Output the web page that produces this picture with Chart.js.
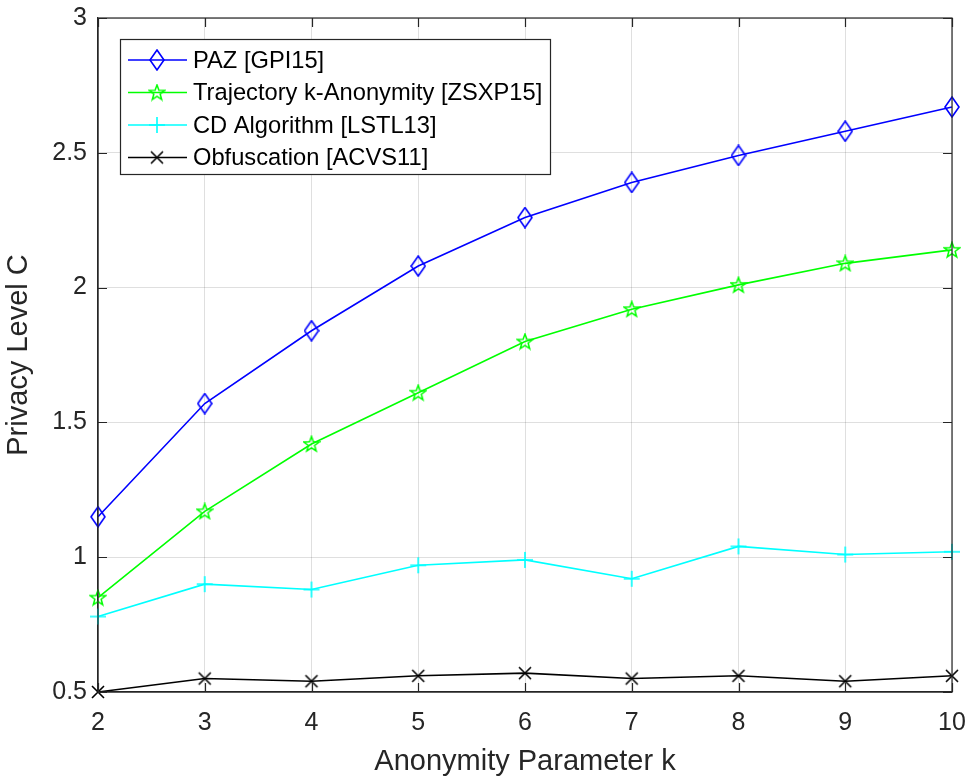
<!doctype html>
<html>
<head>
<meta charset="utf-8">
<title>Privacy Level C</title>
<script src="https://cdn.jsdelivr.net/npm/chart.js@4/dist/chart.umd.min.js"></script>
<style>
  html, body { margin: 0; padding: 0; background: #fff; }
  #holder { width: 970px; height: 779px; }
</style>
</head>
<body>
<div id="holder"><canvas id="chart"></canvas></div>
<script>
// data
var kValues = [2, 3, 4, 5, 6, 7, 8, 9, 10];
var pazValues = [1.15, 1.57, 1.84, 2.08, 2.26, 2.39, 2.49, 2.58, 2.67];
var trajValues = [0.85, 1.17, 1.42, 1.61, 1.80, 1.92, 2.01, 2.09, 2.14];
var cdValues = [0.78, 0.90, 0.88, 0.97, 0.99, 0.92, 1.04, 1.01, 1.02];
var obfValues = [0.50, 0.55, 0.54, 0.56, 0.57, 0.55, 0.56, 0.54, 0.56];
var seriesNames = ['PAZ [GPI15]', 'Trajectory k-Anonymity [ZSXP15]', 'CD Algorithm [LSTL13]', 'Obfuscation [ACVS11]'];
var yTicks = [0.5, 1, 1.5, 2, 2.5, 3];

var FONT = '"Liberation Sans", Arial, sans-serif';
var AXIS = '#262626';

// MATLAB-like open markers
function marker(w, h, draw) {
    var c = document.createElement('canvas');
    c.width = w; c.height = h;
    var g = c.getContext('2d');
    draw(g, w, h);
    return c;
}
var diamond = marker(16, 22, function(g, w, h) {
    g.strokeStyle = '#0000ff'; g.lineWidth = 1.6;
    g.beginPath();
    g.moveTo(w / 2, 1); g.lineTo(w - 1, h / 2); g.lineTo(w / 2, h - 1); g.lineTo(1, h / 2);
    g.closePath(); g.stroke();
});
var pentagram = marker(18, 18, function(g, w, h) {
    g.strokeStyle = '#00ff00'; g.lineWidth = 1.5;
    g.beginPath();
    for (var i = 0; i < 10; i++) {
        var r = i % 2 === 0 ? 8 : 3.3;
        var a = -Math.PI / 2 + i * Math.PI / 5;
        var px = w / 2 + r * Math.cos(a), py = h / 2 + 0.5 + r * Math.sin(a);
        if (i === 0) g.moveTo(px, py); else g.lineTo(px, py);
    }
    g.closePath(); g.stroke();
});
var plus = marker(18, 18, function(g, w, h) {
    g.strokeStyle = '#00ffff'; g.lineWidth = 1.6;
    g.beginPath();
    g.moveTo(w / 2, 1); g.lineTo(w / 2, h - 1);
    g.moveTo(1, h / 2); g.lineTo(w - 1, h / 2);
    g.stroke();
});
var cross = marker(16, 16, function(g, w, h) {
    g.strokeStyle = '#000000'; g.lineWidth = 1.6;
    g.beginPath();
    g.moveTo(2, 2); g.lineTo(w - 2, h - 2);
    g.moveTo(w - 2, 2); g.lineTo(2, h - 2);
    g.stroke();
});

function toPoints(vals) {
    return vals.map(function(v, i) { return {x: kValues[i], y: v}; });
}
function series(label, vals, color, style) {
    return {
        label: label,
        data: toPoints(vals),
        borderColor: color,
        backgroundColor: color,
        borderWidth: 1.6,
        pointStyle: style,
        pointRadius: 8,
        pointHoverRadius: 8,
        tension: 0
    };
}

// box + inward ticks on all four sides, legend inside the axes
var matlabBox = {
    id: 'matlabBox',
    afterDraw: function(chart) {
        var ctx = chart.ctx, a = chart.chartArea;
        var xs = chart.scales.x, ys = chart.scales.y;
        ctx.save();
        ctx.strokeStyle = AXIS;
        ctx.lineWidth = 1.2;
        ctx.strokeRect(a.left, a.top, a.right - a.left, a.bottom - a.top);
        ctx.beginPath();
        kValues.forEach(function(k) {
            var px = Math.round(xs.getPixelForValue(k)) + 0.5;
            ctx.moveTo(px, a.bottom); ctx.lineTo(px, a.bottom - 9);
            ctx.moveTo(px, a.top); ctx.lineTo(px, a.top + 9);
        });
        yTicks.forEach(function(v) {
            var py = Math.round(ys.getPixelForValue(v)) + 0.5;
            ctx.moveTo(a.left, py); ctx.lineTo(a.left + 9, py);
            ctx.moveTo(a.right, py); ctx.lineTo(a.right - 9, py);
        });
        ctx.stroke();

        // legend
        var lx = a.left + 22, ly = a.top + 21, lw = 430, lh = 135;
        ctx.fillStyle = '#fff';
        ctx.fillRect(lx, ly, lw, lh);
        ctx.strokeStyle = AXIS;
        ctx.lineWidth = 1.2;
        ctx.strokeRect(lx + 0.5, ly + 0.5, lw, lh);
        ctx.font = '23.7px ' + FONT;
        ctx.textBaseline = 'middle';
        ctx.textAlign = 'left';
        chart.data.datasets.forEach(function(ds, i) {
            var cy = ly + 21 + i * 32.5;
            ctx.strokeStyle = ds.borderColor;
            ctx.lineWidth = ds.borderWidth;
            ctx.beginPath();
            ctx.moveTo(lx + 8, cy); ctx.lineTo(lx + 67, cy);
            ctx.stroke();
            var img = ds.pointStyle;
            ctx.drawImage(img, lx + 37 - img.width / 2, cy - img.height / 2);
            ctx.fillStyle = '#000';
            ctx.fillText(ds.label, lx + 73, cy + 1);
        });
        ctx.restore();
    }
};

new Chart(document.getElementById('chart'), {
    type: 'line',
    data: {
        datasets: [
            series(seriesNames[0], pazValues, '#0000ff', diamond),
            series(seriesNames[1], trajValues, '#00ff00', pentagram),
            series(seriesNames[2], cdValues, '#00ffff', plus),
            series(seriesNames[3], obfValues, '#000000', cross)
        ]
    },
    options: {
        responsive: true,
        maintainAspectRatio: false,
        animation: false,
        clip: false,
        layout: { padding: 0 },
        plugins: {
            legend: { display: false },
            tooltip: { enabled: false }
        },
        scales: {
            x: {
                type: 'linear',
                min: 2,
                max: 10,
                afterFit: function(s) { s.height = 87; s.paddingRight = 18; s.paddingLeft = 0; },
                ticks: {
                    stepSize: 1,
                    color: AXIS,
                    padding: 16,
                    maxRotation: 0,
                    font: { family: FONT, size: 25 }
                },
                grid: { color: 'rgba(38,38,38,0.15)', lineWidth: 1, drawTicks: false },
                border: { color: AXIS, width: 1.2 },
                title: {
                    display: true,
                    text: 'Anonymity Parameter k',
                    color: AXIS,
                    padding: { top: 0, bottom: 0 },
                    font: { family: FONT, size: 29 }
                }
            },
            y: {
                min: 0.5,
                max: 3,
                afterFit: function(s) { s.width = 98; s.paddingTop = 18; s.paddingBottom = 0; },
                ticks: {
                    stepSize: 0.5,
                    color: AXIS,
                    padding: 11,
                    font: { family: FONT, size: 25 },
                    callback: function(v) { return String(v); }
                },
                grid: { color: 'rgba(38,38,38,0.15)', lineWidth: 1, drawTicks: false },
                border: { color: AXIS, width: 1.2 },
                title: {
                    display: true,
                    text: 'Privacy Level C',
                    color: AXIS,
                    padding: { top: 2, bottom: 0 },
                    font: { family: FONT, size: 29 }
                }
            }
        }
    },
    plugins: [matlabBox]
});
</script>
</body>
</html>
